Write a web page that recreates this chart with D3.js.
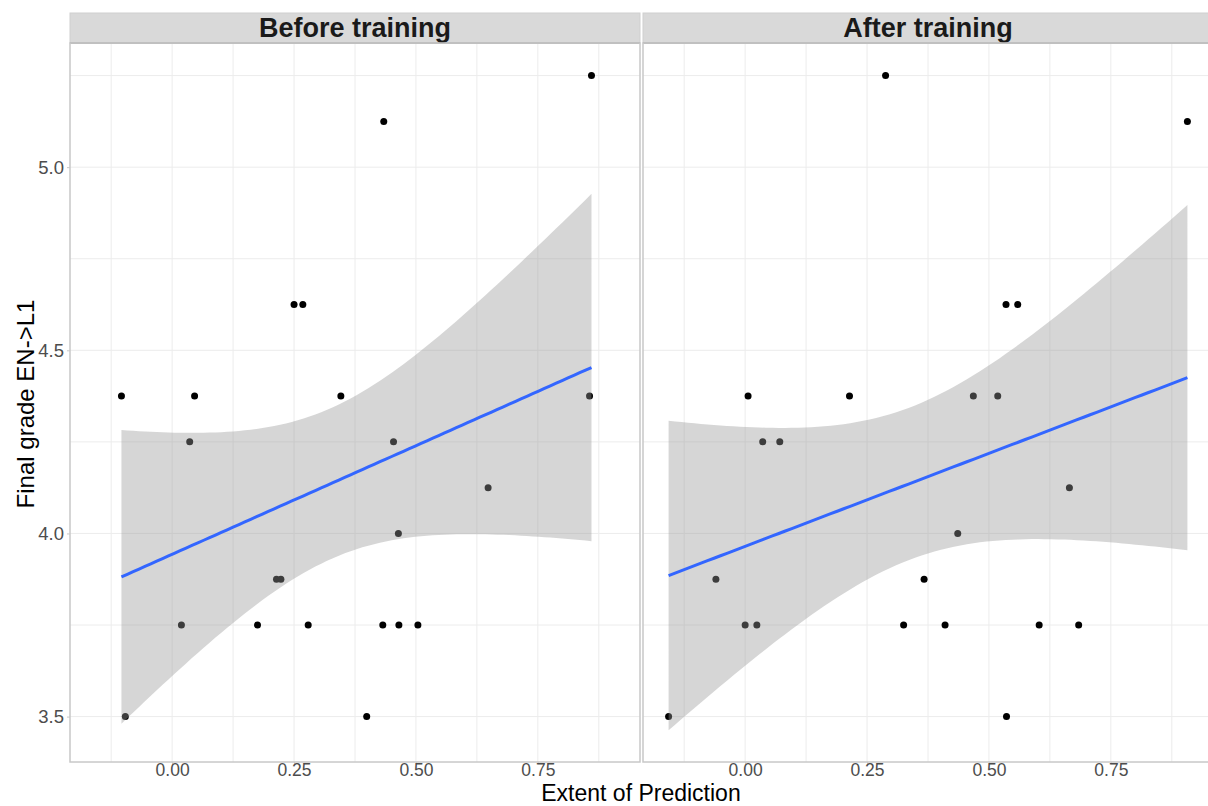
<!DOCTYPE html>
<html>
<head>
<meta charset="utf-8">
<script src="https://cdn.jsdelivr.net/npm/d3@7"></script>
<style>
  body { margin: 0; background: #fff; }
  svg { display: block; font-family: 'Liberation Sans', Arial, sans-serif; }
</style>
</head>
<body>
<div id="graph"></div>
<script>
// values

var panelNames = ['Before training', 'After training'];

var beforeX = [0.860, 0.434, 0.250, 0.268, -0.104, 0.046, 0.346, 0.856, 0.036, 0.454, 0.648,
  0.464, 0.214, 0.223, 0.019, 0.175, 0.279, 0.432, 0.465, 0.504, -0.096, 0.399];
var beforeY = [5.25, 5.125, 4.625, 4.625, 4.375, 4.375, 4.375, 4.375, 4.25, 4.25, 4.125,
  4.0, 3.875, 3.875, 3.75, 3.75, 3.75, 3.75, 3.75, 3.75, 3.5, 3.5];

var afterX = [0.288, 0.907, 0.535, 0.559, 0.006, 0.214, 0.468, 0.518, 0.036, 0.071, 0.665,
  0.436, -0.060, 0.367, 0.000, 0.024, 0.325, 0.410, 0.603, 0.684, -0.157, 0.536];
var afterY = [5.25, 5.125, 4.625, 4.625, 4.375, 4.375, 4.375, 4.375, 4.25, 4.25, 4.125,
  4.0, 3.875, 3.875, 3.75, 3.75, 3.75, 3.75, 3.75, 3.75, 3.5, 3.5];

var xTicks = [0, 0.25, 0.5, 0.75];
var xMinor = [-0.125, 0.125, 0.375, 0.625, 0.875];
var yTicks = [3.5, 4.0, 4.5, 5.0];
var yMinor = [3.75, 4.25, 4.75, 5.25];

var xDomain = [-0.2095, 0.9595];
var yDomain = [3.376, 5.339];

// layout
var w = 1208, h = 806;
var panelW = 570, panelTop = 43, panelBottom = 762;
var panelLeft = [70, 643];
var stripTop = 13;

var svg = d3
  .select('#graph')
  .append('svg')
  .attr('width', w)
  .attr('height', h);

var yscale = d3.scaleLinear().domain(yDomain).range([panelBottom, panelTop]);

// linear fit + 95% band, same as geom_smooth(method = 'lm')
function fitLine(xs, ys) {
  var n = xs.length;
  var mx = d3.mean(xs), my = d3.mean(ys);
  var sxx = 0, sxy = 0;
  for (var i = 0; i < n; i++) {
    sxx += (xs[i] - mx) * (xs[i] - mx);
    sxy += (xs[i] - mx) * (ys[i] - my);
  }
  var b = sxy / sxx, a = my - b * mx;
  var rss = 0;
  for (var j = 0; j < n; j++) rss += Math.pow(ys[j] - (a + b * xs[j]), 2);
  var s = Math.sqrt(rss / (n - 2));
  var tq = 2.086; // qt(0.975, 20)
  var x0 = d3.min(xs), x1 = d3.max(xs);
  var out = [];
  for (var k = 0; k <= 80; k++) {
    var x = x0 + (x1 - x0) * k / 80;
    var fit = a + b * x;
    var se = s * Math.sqrt(1 / n + (x - mx) * (x - mx) / sxx);
    out.push({ x: x, y: fit, lo: fit - tq * se, hi: fit + tq * se });
  }
  return out;
}

var panels = [
  { name: panelNames[0], xs: beforeX, ys: beforeY, left: panelLeft[0] },
  { name: panelNames[1], xs: afterX, ys: afterY, left: panelLeft[1] }
];

panels.forEach(function(p) {
  var xscale = d3.scaleLinear().domain(xDomain).range([p.left, p.left + panelW]);
  var g = svg.append('g');

  // strip
  g.append('rect')
    .attr('x', p.left)
    .attr('y', stripTop)
    .attr('width', panelW)
    .attr('height', panelTop - stripTop)
    .attr('fill', '#d9d9d9')
    .attr('stroke', '#cfcfcf')
    .attr('stroke-width', 1);
  g.append('line')
    .attr('x1', p.left).attr('x2', p.left + panelW)
    .attr('y1', panelTop).attr('y2', panelTop)
    .attr('stroke', '#a9a9a9')
    .attr('stroke-width', 2);
  g.append('text')
    .attr('x', p.left + panelW / 2)
    .attr('y', 37)
    .attr('text-anchor', 'middle')
    .attr('font-size', '27px')
    .attr('font-weight', 'bold')
    .attr('fill', '#1a1a1a')
    .text(p.name);

  // grid
  g.selectAll('.vgrid')
    .data(xTicks.concat(xMinor))
    .enter()
    .append('line')
    .attr('x1', function(d) { return xscale(d); })
    .attr('x2', function(d) { return xscale(d); })
    .attr('y1', panelTop + 1)
    .attr('y2', panelBottom)
    .attr('stroke', '#ececec')
    .attr('stroke-width', 1);
  g.selectAll('.hgrid')
    .data(yTicks.concat(yMinor))
    .enter()
    .append('line')
    .attr('x1', p.left)
    .attr('x2', p.left + panelW)
    .attr('y1', function(d) { return yscale(d); })
    .attr('y2', function(d) { return yscale(d); })
    .attr('stroke', '#ececec')
    .attr('stroke-width', 1);

  // points under the band
  g.selectAll('.dot')
    .data(p.xs)
    .enter()
    .append('circle')
    .attr('cx', function(d) { return xscale(d); })
    .attr('cy', function(d, i) { return yscale(p.ys[i]); })
    .attr('r', 3.5)
    .attr('fill', '#000');

  var fit = fitLine(p.xs, p.ys);

  var band = d3.area()
    .x(function(d) { return xscale(d.x); })
    .y0(function(d) { return yscale(d.lo); })
    .y1(function(d) { return yscale(d.hi); });

  g.append('path')
    .datum(fit)
    .attr('d', band)
    .attr('fill', '#999999')
    .attr('fill-opacity', 0.4);

  var line = d3.line()
    .x(function(d) { return xscale(d.x); })
    .y(function(d) { return yscale(d.y); });

  g.append('path')
    .datum(fit)
    .attr('d', line)
    .attr('fill', 'none')
    .attr('stroke', '#3366FF')
    .attr('stroke-width', 3);

  // panel border
  g.append('rect')
    .attr('x', p.left)
    .attr('y', panelTop)
    .attr('width', panelW)
    .attr('height', panelBottom - panelTop)
    .attr('fill', 'none')
    .attr('stroke', '#c8c8c8')
    .attr('stroke-width', 1.5);

  // x axis
  var x_axis = d3.axisBottom(xscale)
    .tickValues(xTicks)
    .tickSize(2)
    .tickPadding(0)
    .tickFormat(d3.format('.2f'));
  var xg = g.append('g')
    .attr('transform', 'translate(0,' + panelBottom + ')')
    .call(x_axis);
  xg.select('.domain').remove();
  xg.selectAll('line').attr('stroke', '#c8c8c8');
  xg.selectAll('text')
    .attr('fill', '#4d4d4d')
    .attr('font-size', '17.5px')
    .attr('font-family', 'Liberation Sans, Arial, sans-serif');
});

// y axis only on the left panel
var y_axis = d3.axisLeft(yscale)
  .tickValues(yTicks)
  .tickSize(3)
  .tickPadding(3)
  .tickFormat(d3.format('.1f'));
var yg = svg.append('g')
  .attr('transform', 'translate(' + panelLeft[0] + ',0)')
  .call(y_axis);
yg.select('.domain').remove();
yg.selectAll('line').attr('stroke', '#c8c8c8');
yg.selectAll('text')
  .attr('fill', '#4d4d4d')
  .attr('font-size', '18.5px')
  .attr('font-family', 'Liberation Sans, Arial, sans-serif');

// axis titles
svg.append('text')
  .attr('x', 641)
  .attr('y', 801)
  .attr('text-anchor', 'middle')
  .attr('font-size', '23px')
  .attr('fill', '#000')
  .text('Extent of Prediction');

svg.append('text')
  .attr('transform', 'translate(34,' + 404 + ') rotate(-90)')
  .attr('text-anchor', 'middle')
  .attr('font-size', '24px')
  .attr('fill', '#000')
  .text('Final grade EN->L1');
</script>
</body>
</html>
